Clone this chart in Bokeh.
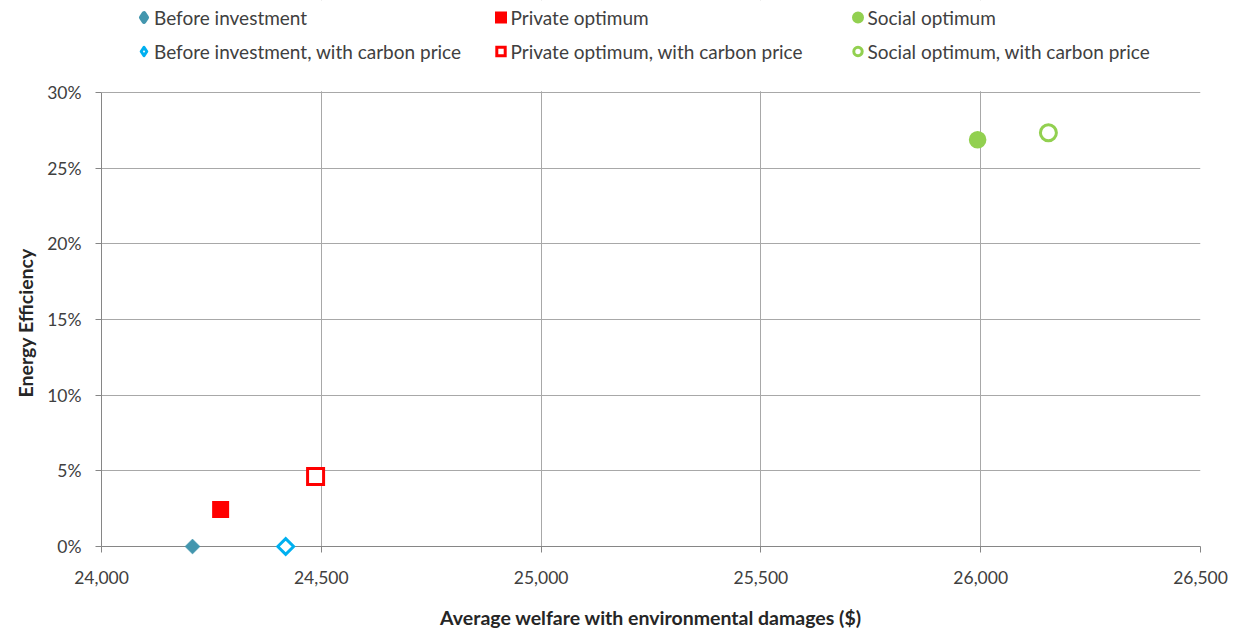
import numpy as np
from bokeh.plotting import figure
from bokeh.models import (Range1d, FixedTicker, NumeralTickFormatter, Legend, LegendItem,
                          BoxAnnotation, Title)
from bokeh.embed import file_html
from bokeh.resources import INLINE

# ---- data ----
series_names = [
    "Before investment",
    "Before investment, with carbon price",
    "Private optimum",
    "Private optimum, with carbon price",
    "Social optimum",
    "Social optimum, with carbon price",
]
welfare = [24207, 24419, 24271, 24487, 25993, 26154]
efficiency = [0.0, 0.0, 0.0244, 0.0463, 0.2688, 0.2734]
x_ticks = [24000, 24500, 25000, 25500, 26000, 26500]
y_ticks = [0.0, 0.05, 0.10, 0.15, 0.20, 0.25, 0.30]
x_min, x_max = 24000, 26500
y_min, y_max = 0.0, 0.30
x_title = "Average welfare with environmental damages ($)"
y_title = "Energy Efficiency"

# ---- styles ----
TEAL, CYAN, RED, GREEN = "#4396AE", "#00B0F0", "#FF0000", "#92D050"
styles = [
    dict(marker="square", size=10.6, angle=np.pi / 4, fill_color=TEAL, line_color=TEAL, line_width=0.5),
    dict(marker="square", size=11.2, angle=np.pi / 4, fill_color="white", line_color=CYAN, line_width=3),
    dict(marker="square", size=13.4, angle=0, fill_color=RED, line_color=RED, line_width=3.6),
    dict(marker="square", size=16, angle=0, fill_color="white", line_color=RED, line_width=3),
    dict(marker="circle", size=14, angle=0, fill_color=GREEN, line_color=GREEN, line_width=3.6),
    dict(marker="circle", size=16, angle=0, fill_color="white", line_color=GREEN, line_width=3),
]
# legend-only glyph styles for the diamonds (legend glyphs are drawn unrotated)
legend_diamond_styles = {
    0: dict(marker="diamond", fill_color=TEAL, line_color=TEAL, line_width=4.5, line_join="round"),
    1: dict(marker="diamond", fill_color="white", line_color=CYAN, line_width=3, line_join="round"),
}

FONT = "Lato"
GRID = "#a8a8a8"

# layout: plot box 454 px tall; the frame extends 92 px above it for the legend
BOX_H, TOP_EXTRA = 454, 92
px = (y_max - y_min) / BOX_H
y_top = y_max + TOP_EXTRA * px

p = figure(
    width=1233, height=635,
    x_range=Range1d(x_min, x_max), y_range=Range1d(y_min, y_top),
    output_backend="svg", toolbar_location=None,
    min_border_left=101, min_border_right=33, min_border_top=0, min_border_bottom=89,
)
p.background_fill_color = "white"
p.border_fill_color = "white"
p.outline_line_color = None

renderers = []
for i, st in enumerate(styles):
    r = p.scatter(x=[welfare[i]], y=[efficiency[i]], level="overlay", line_join="miter", **st)
    renderers.append(r)

# legend-only renderers (no visible point in the plot)
legend_renderers = list(renderers)
for i, st in legend_diamond_styles.items():
    legend_renderers[i] = p.scatter(x=[np.nan], y=[np.nan], **st)

# axes
p.xaxis.ticker = FixedTicker(ticks=x_ticks)
p.yaxis.ticker = FixedTicker(ticks=y_ticks)
p.xaxis.formatter = NumeralTickFormatter(format="0,0")
p.yaxis.formatter = NumeralTickFormatter(format="0%")
p.xaxis.bounds = (x_min, x_max)
p.yaxis.bounds = (y_min, y_max)
p.xaxis.axis_label = x_title
for ax in (p.xaxis, p.yaxis):
    ax.axis_line_color = "#868686"
    ax.major_tick_line_color = "#868686"
    ax.major_tick_out = 6
    ax.major_tick_in = 0
    ax.minor_tick_line_color = None
    ax.major_label_text_font = FONT
    ax.major_label_text_font_size = "17.5px"
    ax.major_label_text_color = "#404040"
    ax.axis_label_text_font = FONT
    ax.axis_label_text_font_size = "19.5px"
    ax.axis_label_text_font_style = "bold"
    ax.axis_label_text_color = "#262626"
p.xaxis.major_label_standoff = 18
p.xaxis.axis_label_standoff = 19
p.yaxis.major_label_standoff = 14

# y title placed along the plot box (starting from its lower part)
ytitle = Title(text=y_title, align="left", offset=149,
               text_font=FONT, text_font_size="19.5px", text_font_style="bold",
               text_color="#262626", standoff=16)
p.add_layout(ytitle, "left")

p.xgrid.grid_line_color = GRID
p.ygrid.grid_line_color = GRID

# white band above the plot box, hiding grid lines behind the legend
p.add_layout(BoxAnnotation(bottom=y_max + 1.2 * px, fill_color="white", fill_alpha=1,
                           line_alpha=0, level="annotation"))

# legends: three columns, two rows each (placed in the frame's top band)
legend_cfg = [
    dict(idx=[0, 1], location=(32, 483)),
    dict(idx=[2, 3], location=(388.5, 483)),
    dict(idx=[4, 5], location=(745.5, 483)),
]
for cfg in legend_cfg:
    items = [LegendItem(label=series_names[i], renderers=[legend_renderers[i]]) for i in cfg["idx"]]
    lg = Legend(
        items=items, location=cfg["location"], orientation="vertical",
        glyph_width=21, glyph_height=24, spacing=10,
        label_standoff=0, padding=0, margin=0,
        border_line_alpha=0, background_fill_alpha=0,
        label_text_font=FONT, label_text_font_size="19px", label_text_color="#404040",
    )
    p.add_layout(lg, "center")

open("out.html", "w").write(file_html(p, INLINE))
